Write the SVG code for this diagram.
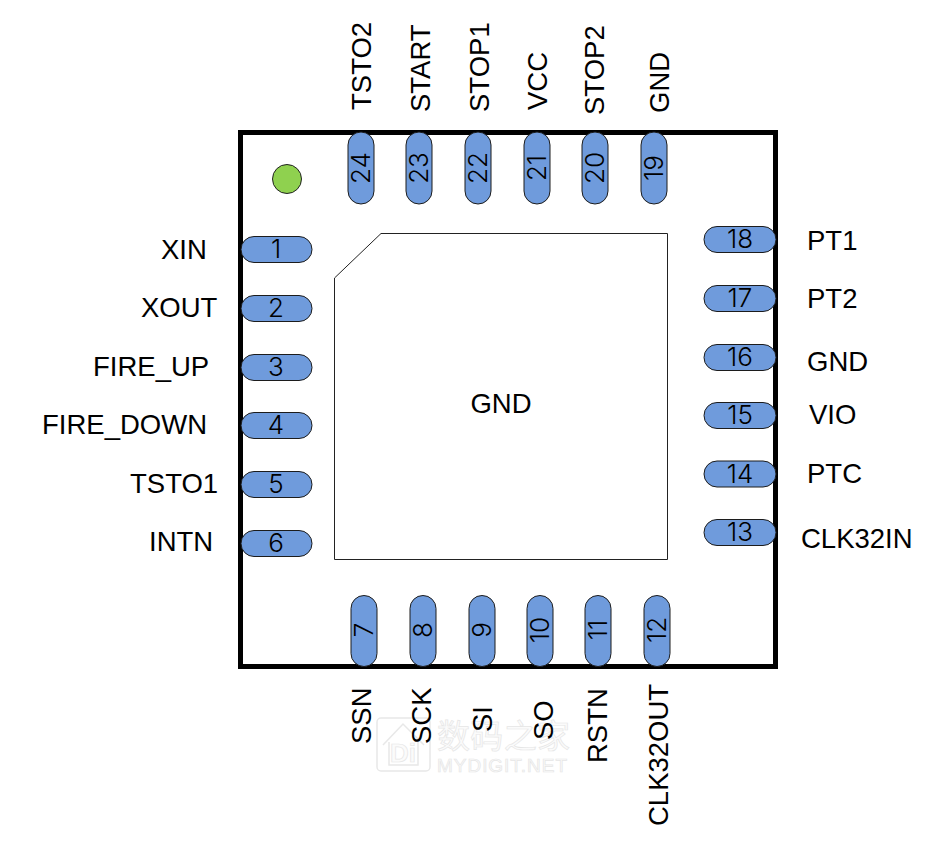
<svg xmlns="http://www.w3.org/2000/svg" width="946" height="866" viewBox="0 0 946 866">
<style>
.pin{fill:#6f9bdc;stroke:#1c1c1c;stroke-width:1}
.n{font-family:"Inter","Liberation Sans",sans-serif;font-size:26px;font-weight:300;fill:#000;text-anchor:middle}
.l{font-family:"Liberation Sans",Arial,sans-serif;font-size:27.500px;fill:#000}
.m{text-anchor:middle}
.w{font-family:"Liberation Sans","Noto Sans CJK SC",sans-serif;fill:#fbfbfb;stroke:#e6e6e6;stroke-width:.7}
</style>
<rect width="946" height="866" fill="#fff"/>
<g id="watermark">
<rect x="377" y="718" width="53" height="53" rx="4" fill="none" stroke="#e8e8e8" stroke-width="1.500"/>
<path d="M383 745L403 724L424 745M389 742V765H418V742" fill="none" stroke="#e8e8e8" stroke-width="1.500"/>
<text class="w" x="403" y="762" font-size="26" text-anchor="middle" font-weight="bold">Di</text>
<text class="w" x="437" y="748" font-size="33" font-family="Noto Sans CJK SC" textLength="133">数码之家</text>
<text class="w" x="437" y="772" font-size="19" textLength="130">MYDIGIT.NET</text>
</g>
<g id="package"><rect x="240.500" y="132.500" width="535" height="534" fill="none" stroke="#000" stroke-width="5"/></g>
<g id="pad">
<path d="M381 233.500H667.500V559.500H334.500V278Z" fill="#fff" stroke="#222" stroke-width="1"/>
<text class="l m" x="501" y="412.500">GND</text>
</g>
<g id="pin1-mark"><circle cx="287" cy="179" r="14.500" fill="#8fd14f" stroke="#222" stroke-width="1"/></g>
<g id="connectors"></g>
<g id="pin1"><rect class="pin" x="241" y="236.500" width="71" height="26" rx="13"/><text class="n" x="276" y="258">1</text><text class="l" x="161" y="259">XIN</text></g>
<g id="pin2"><rect class="pin" x="241" y="295.500" width="71" height="26" rx="13"/><text class="n" x="276" y="317">2</text><text class="l" x="141" y="317">XOUT</text></g>
<g id="pin3"><rect class="pin" x="241" y="354.500" width="71" height="26" rx="13"/><text class="n" x="276" y="376">3</text><text class="l" x="93" y="376">FIRE_UP</text></g>
<g id="pin4"><rect class="pin" x="241" y="412.500" width="71" height="26" rx="13"/><text class="n" x="276" y="434">4</text><text class="l" x="42" y="434">FIRE_DOWN</text></g>
<g id="pin5"><rect class="pin" x="241" y="471.500" width="71" height="26" rx="13"/><text class="n" x="276" y="493">5</text><text class="l" x="130" y="493">TSTO1</text></g>
<g id="pin6"><rect class="pin" x="241" y="530.500" width="71" height="26" rx="13"/><text class="n" x="276" y="552">6</text><text class="l" x="149" y="551">INTN</text></g>
<g id="pin7"><rect class="pin" x="351" y="595.500" width="26" height="71" rx="13"/><text class="n" transform="translate(373 630) rotate(-90)">7</text><text class="l" transform="translate(371 744) rotate(-90)">SSN</text></g>
<g id="pin8"><rect class="pin" x="410" y="595.500" width="26" height="71" rx="13"/><text class="n" transform="translate(432 630) rotate(-90)">8</text><text class="l" transform="translate(431 744) rotate(-90)">SCK</text></g>
<g id="pin9"><rect class="pin" x="469" y="595.500" width="26" height="71" rx="13"/><text class="n" transform="translate(491 630) rotate(-90)">9</text><text class="l" transform="translate(492 732) rotate(-90)">SI</text></g>
<g id="pin10"><rect class="pin" x="527" y="595.500" width="26" height="71" rx="13"/><text class="n" transform="translate(549 630) rotate(-90)">10</text><text class="l" transform="translate(553 740) rotate(-90)">SO</text></g>
<g id="pin11"><rect class="pin" x="585" y="595.500" width="26" height="71" rx="13"/><text class="n" transform="translate(607 630) rotate(-90)">11</text><text class="l" transform="translate(607 763) rotate(-90)">RSTN</text></g>
<g id="pin12"><rect class="pin" x="644" y="595.500" width="26" height="71" rx="13"/><text class="n" transform="translate(666 630) rotate(-90)">12</text><text class="l" transform="translate(668 826) rotate(-90)">CLK32OUT</text></g>
<g id="pin13"><rect class="pin" x="704" y="519.500" width="72" height="26" rx="13"/><text class="n" x="740" y="541">13</text><text class="l" x="801" y="548">CLK32IN</text></g>
<g id="pin14"><rect class="pin" x="704" y="461" width="72" height="26" rx="13"/><text class="n" x="740" y="483">14</text><text class="l" x="807" y="483">PTC</text></g>
<g id="pin15"><rect class="pin" x="704" y="402.500" width="72" height="26" rx="13"/><text class="n" x="740" y="424">15</text><text class="l" x="809" y="424">VIO</text></g>
<g id="pin16"><rect class="pin" x="704" y="344.500" width="72" height="26" rx="13"/><text class="n" x="740" y="366">16</text><text class="l" x="807" y="371">GND</text></g>
<g id="pin17"><rect class="pin" x="704" y="285.500" width="72" height="26" rx="13"/><text class="n" x="740" y="307">17</text><text class="l" x="807" y="308">PT2</text></g>
<g id="pin18"><rect class="pin" x="704" y="226.500" width="72" height="26" rx="13"/><text class="n" x="740" y="248">18</text><text class="l" x="807" y="250">PT1</text></g>
<g id="pin19"><rect class="pin" x="641" y="132" width="26" height="72" rx="13"/><text class="n" transform="translate(663 168) rotate(-90)">19</text><text class="l" transform="translate(669 113) rotate(-90)">GND</text></g>
<g id="pin20"><rect class="pin" x="582" y="132" width="26" height="72" rx="13"/><text class="n" transform="translate(604 168) rotate(-90)">20</text><text class="l" transform="translate(604 115) rotate(-90)">STOP2</text></g>
<g id="pin21"><rect class="pin" x="524" y="132" width="26" height="72" rx="13"/><text class="n" transform="translate(546 168) rotate(-90)">21</text><text class="l" transform="translate(547 110) rotate(-90)">VCC</text></g>
<g id="pin22"><rect class="pin" x="465" y="132" width="26" height="72" rx="13"/><text class="n" transform="translate(487 168) rotate(-90)">22</text><text class="l" transform="translate(489 112) rotate(-90)">STOP1</text></g>
<g id="pin23"><rect class="pin" x="406" y="132" width="26" height="72" rx="13"/><text class="n" transform="translate(428 168) rotate(-90)">23</text><text class="l" transform="translate(430 112) rotate(-90)">START</text></g>
<g id="pin24"><rect class="pin" x="348" y="132" width="26" height="72" rx="13"/><text class="n" transform="translate(370 168) rotate(-90)">24</text><text class="l" transform="translate(371 110) rotate(-90)">TSTO2</text></g>
</svg>
